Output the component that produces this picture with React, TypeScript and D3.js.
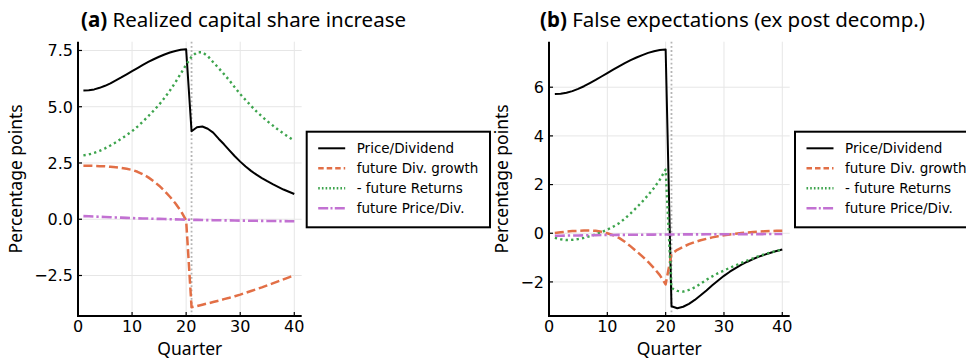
import React from 'react';
import * as d3 from 'd3';

const quarters = [1,2,3,4,5,6,7,8,9,10,11,12,13,14,15,16,17,18,19,20,21,22,23,24,25,26,27,28,29,30,31,32,33,34,35,36,37,38,39,40];
const seriesNames = ['Price/Dividend', 'future Div. growth', '- future Returns', 'future Price/Div.'];
const xTicks = [0, 10, 20, 30, 40];
const aYTicks = [-2.5, 0, 2.5, 5, 7.5];
const bYTicks = [-2, 0, 2, 4, 6];

// Panel (a): realized capital share increase
const aPriceDiv = [5.72,5.73,5.77,5.84,5.93,6.04,6.17,6.30,6.44,6.58,6.72,6.86,6.99,7.11,7.22,7.32,7.41,7.48,7.53,7.55,3.91,4.09,4.12,4.02,3.85,3.58,3.33,3.06,2.80,2.56,2.34,2.15,1.98,1.83,1.69,1.56,1.44,1.32,1.22,1.12];
const aDivGrowth = [2.38,2.38,2.37,2.36,2.35,2.33,2.31,2.28,2.24,2.19,2.11,2.00,1.86,1.69,1.49,1.26,1.00,0.71,0.38,-0.05,-3.91,-3.86,-3.80,-3.74,-3.68,-3.62,-3.55,-3.49,-3.42,-3.35,-3.27,-3.19,-3.11,-3.03,-2.94,-2.85,-2.76,-2.67,-2.58,-2.49];
const aReturns = [2.84,2.88,2.95,3.04,3.15,3.28,3.42,3.58,3.74,3.91,4.12,4.34,4.58,4.83,5.09,5.39,5.72,6.08,6.47,6.87,7.22,7.42,7.42,7.25,6.98,6.72,6.45,6.17,5.86,5.56,5.30,5.04,4.79,4.57,4.36,4.17,3.98,3.81,3.65,3.49];
const aFuturePD = [0.14,0.13,0.12,0.11,0.10,0.09,0.08,0.07,0.06,0.05,0.04,0.035,0.03,0.02,0.015,0.01,0.0,-0.005,-0.01,-0.02,-0.025,-0.03,-0.035,-0.04,-0.042,-0.045,-0.05,-0.052,-0.055,-0.06,-0.063,-0.066,-0.07,-0.072,-0.075,-0.078,-0.081,-0.084,-0.087,-0.09];

// Panel (b): false expectations (ex post decomp.)
const bPriceDiv = [5.72,5.73,5.77,5.84,5.93,6.04,6.17,6.30,6.44,6.58,6.72,6.86,6.99,7.11,7.22,7.32,7.41,7.48,7.53,7.55,-3.00,-3.08,-3.02,-2.90,-2.74,-2.55,-2.35,-2.14,-1.94,-1.75,-1.58,-1.43,-1.29,-1.17,-1.06,-0.96,-0.88,-0.80,-0.73,-0.67];
const bDivGrowth = [0.01,0.04,0.07,0.09,0.10,0.11,0.11,0.10,0.06,0.0,-0.08,-0.19,-0.35,-0.54,-0.74,-0.95,-1.18,-1.43,-1.72,-2.10,-0.85,-0.68,-0.56,-0.45,-0.36,-0.29,-0.23,-0.17,-0.12,-0.08,-0.05,-0.02,0.01,0.03,0.05,0.07,0.08,0.09,0.10,0.10];
const bReturns = [-0.19,-0.25,-0.28,-0.27,-0.24,-0.19,-0.12,-0.05,0.04,0.15,0.27,0.41,0.60,0.82,1.05,1.30,1.57,1.86,2.20,2.62,-2.25,-2.37,-2.40,-2.33,-2.22,-2.07,-1.91,-1.77,-1.64,-1.53,-1.42,-1.32,-1.22,-1.12,-1.03,-0.94,-0.86,-0.79,-0.73,-0.67];
const bFuturePD = [-0.10,-0.10,-0.095,-0.09,-0.09,-0.085,-0.08,-0.08,-0.075,-0.07,-0.07,-0.065,-0.065,-0.06,-0.06,-0.06,-0.055,-0.055,-0.05,-0.05,-0.05,-0.05,-0.048,-0.047,-0.046,-0.045,-0.044,-0.043,-0.042,-0.04,-0.04,-0.039,-0.038,-0.037,-0.036,-0.035,-0.034,-0.033,-0.032,-0.03];

const COLORS = ['#000000', '#e26f46', '#3da44d', '#c271d2'];
const WIDTHS = [2, 2.5, 2.4, 2.6];
const DASH_PLOT = ['none', '9 3.8', '2.3 3.2', '10 3 2.3 3'];
const DASH_LEG = ['none', '5.5 3', '1.6 2.1', '10 2.3 2 2.3'];

const TICK_FONT = 'DejaVu Sans';
const LABEL_FONT = 'Noto Sans';

type PanelProps = {
  left: number; right: number; top: number; bottom: number;
  xMax: number; yMin: number; yMax: number;
  yTicks: number[]; yFmt: (v: number) => string;
  series: number[][];
  letter: string; title: string; titleX: number;
  yLabelX: number; legendX: number;
};

function Panel(p: PanelProps) {
  const x = d3.scaleLinear().domain([0, p.xMax]).range([p.left, p.right]);
  const y = d3.scaleLinear().domain([p.yMin, p.yMax]).range([p.bottom, p.top]);
  const line = d3.line<number>().x((_, i) => x(quarters[i])).y((d) => y(d));
  const legendY = 131.7;
  const rowH = 20;
  return (
    <g>
      <text x={p.titleX} y={27} textAnchor="middle" fontFamily={LABEL_FONT} fontSize={20.5} fill="#000">
        <tspan fontWeight="bold">{p.letter}</tspan> {p.title}
      </text>
      {/* grid */}
      {xTicks.filter((t) => t > 0).map((t) => (
        <line key={'gx' + t} x1={x(t)} x2={x(t)} y1={p.top} y2={p.bottom} stroke="#e6e6e6" strokeWidth={1} />
      ))}
      {p.yTicks.map((t) => (
        <line key={'gy' + t} x1={p.left} x2={p.right} y1={y(t)} y2={y(t)} stroke="#e6e6e6" strokeWidth={1} />
      ))}
      {/* vertical dotted marker */}
      <line x1={x(21)} x2={x(21)} y1={p.top} y2={p.bottom} stroke="#b4b4b4" strokeWidth={1.8} strokeDasharray="1.8 2.4" />
      {/* series */}
      {p.series.map((s, k) => (
        <path key={'s' + k} d={line(s) || ''} fill="none" stroke={COLORS[k]} strokeWidth={WIDTHS[k]}
          strokeDasharray={DASH_PLOT[k]} strokeLinejoin="round" />
      ))}
      {/* axes */}
      <line x1={p.left} x2={p.left} y1={p.top} y2={p.bottom + 1} stroke="#000" strokeWidth={2} />
      <line x1={p.left - 1} x2={p.right} y1={p.bottom} y2={p.bottom} stroke="#000" strokeWidth={2} />
      {xTicks.map((t) => (
        <g key={'xt' + t}>
          <line x1={x(t)} x2={x(t)} y1={p.bottom} y2={p.bottom - 4} stroke="#000" strokeWidth={1.2} />
          <text x={x(t)} y={332} textAnchor="middle" fontFamily={TICK_FONT} fontSize={16} fill="#000">{t}</text>
        </g>
      ))}
      {p.yTicks.map((t) => (
        <g key={'yt' + t}>
          <line x1={p.left} x2={p.left + 4} y1={y(t)} y2={y(t)} stroke="#000" strokeWidth={1.2} />
          <text x={p.left - 5} y={y(t) + 5.8} textAnchor="end" fontFamily={TICK_FONT} fontSize={16} fill="#000">{p.yFmt(t)}</text>
        </g>
      ))}
      <text x={(p.left + p.right) / 2} y={355} textAnchor="middle" fontFamily={LABEL_FONT} fontSize={17.5} fill="#000">Quarter</text>
      <text transform={`translate(${p.yLabelX},${(p.top + p.bottom) / 2}) rotate(-90)`} textAnchor="middle"
        fontFamily={LABEL_FONT} fontSize={17.5} fill="#000">Percentage points</text>
      {/* legend */}
      <rect x={p.legendX} y={legendY} width={183.3} height={95.6} fill="#fff" stroke="#000" strokeWidth={2} />
      {seriesNames.map((n, k) => {
        const cy = legendY + 16.6 + k * rowH;
        return (
          <g key={'lg' + k}>
            <line x1={p.legendX + 11.5} x2={p.legendX + 38.5} y1={cy} y2={cy} stroke={COLORS[k]}
              strokeWidth={WIDTHS[k]} strokeDasharray={DASH_LEG[k]} />
            <text x={p.legendX + 50} y={cy + 4.9} fontFamily={TICK_FONT} fontSize={13.5} fill="#000">{n}</text>
          </g>
        );
      })}
    </g>
  );
}

export default function App() {
  const fmtA = d3.format('.1f');
  const fmtB = d3.format('d');
  return (
    <svg width={966} height={362} viewBox="0 0 966 362"
      style={{ position: 'absolute', left: 0, top: 0, background: '#fff' }}>
      <rect width={966} height={362} fill="#fff" />
      <Panel left={78} right={301.7} top={41.7} bottom={316} xMax={41.37} yMin={-4.3} yMax={7.89}
        yTicks={aYTicks} yFmt={fmtA} series={[aPriceDiv, aDivGrowth, aReturns, aFuturePD]}
        letter="(a)" title="Realized capital share increase" titleX={243.5} yLabelX={22} legendX={306.7} />
      <Panel left={549} right={789.7} top={41.7} bottom={316} xMax={41.27} yMin={-3.4} yMax={7.87}
        yTicks={bYTicks} yFmt={fmtB} series={[bPriceDiv, bDivGrowth, bReturns, bFuturePD]}
        letter="(b)" title="False expectations (ex post decomp.)" titleX={732.5} yLabelX={508} legendX={795} />
    </svg>
  );
}
